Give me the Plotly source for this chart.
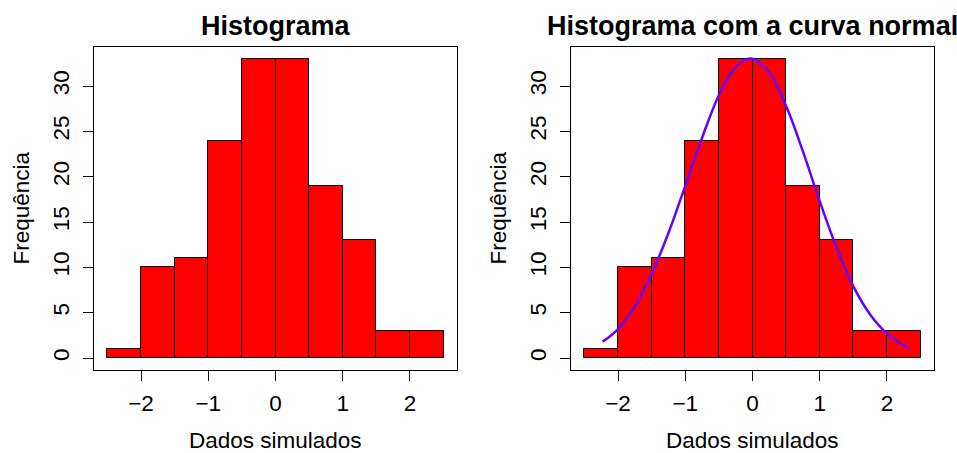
import plotly.graph_objects as go

# ---- data ----
bin_edges = [-2.5, -2.0, -1.5, -1.0, -0.5, 0.0, 0.5, 1.0, 1.5, 2.0, 2.5]
counts = [1, 10, 11, 24, 33, 33, 19, 13, 3, 3]

curve_x = [-2.23, -2.0, -1.75, -1.5, -1.25, -1.0, -0.75, -0.5, -0.25, -0.03,
           0.25, 0.5, 0.75, 1.0, 1.25, 1.5, 1.75, 2.0, 2.33]
curve_y = [1.8, 3.2, 5.7, 9.3, 13.8, 19.0, 24.3, 29.0, 32.1, 33.05,
           31.5, 27.8, 22.8, 17.3, 12.2, 7.9, 4.8, 2.7, 1.05]

x_ticks = [-2, -1, 0, 1, 2]
y_ticks = [0, 5, 10, 15, 20, 25, 30]

titles = ["Histograma", "Histograma com a curva normal"]
x_title = "Dados simulados"
y_title = "Frequência"

centers = [(a + b) / 2 for a, b in zip(bin_edges[:-1], bin_edges[1:])]
widths = [b - a for a, b in zip(bin_edges[:-1], bin_edges[1:])]

W, H = 957, 453
FONT = "Liberation Sans, Arial, sans-serif"
FS = 22.5
FS_TITLE = 27

fig = go.Figure()

# pixel layout of the two plot boxes
boxes = [(94, 457), (571, 934)]
top, bottom = 47, 370

for i, (x0, x1) in enumerate(boxes):
    xa = "x" if i == 0 else "x2"
    ya = "y" if i == 0 else "y2"
    fig.add_trace(go.Bar(
        x=centers, y=counts, width=widths,
        marker=dict(color="#FF0000", line=dict(color="black", width=1)),
        xaxis=xa, yaxis=ya, showlegend=False, hoverinfo="skip",
    ))

fig.add_trace(go.Scatter(
    x=curve_x, y=curve_y, mode="lines",
    line=dict(color="#6600FF", width=2.5, shape="spline", smoothing=1.0),
    xaxis="x2", yaxis="y2", showlegend=False, hoverinfo="skip",
))

axis_common = dict(
    showgrid=False, zeroline=False, showline=True, mirror=True,
    linecolor="black", linewidth=1, ticks="outside", ticklen=10,
    tickcolor="black", tickwidth=1,
    tickfont=dict(family=FONT, size=FS, color="black"),
)

layout = dict(
    width=W, height=H, margin=dict(l=0, r=0, t=0, b=0),
    paper_bgcolor="white", plot_bgcolor="white",
    bargap=0, showlegend=False,
)

ydom = [1 - bottom / H, 1 - top / H]
for i, (x0, x1) in enumerate(boxes):
    suffix = "" if i == 0 else "2"
    layout["xaxis" + suffix] = dict(
        axis_common, domain=[x0 / W, x1 / W], range=[-2.7, 2.7],
        tickmode="array", tickvals=x_ticks,
        ticktext=[("\u2212" + str(-t)) if t < 0 else str(t) for t in x_ticks],
        anchor="y" + suffix, ticklabelstandoff=3,
    )
    layout["yaxis" + suffix] = dict(
        axis_common, domain=ydom, range=[-1.32, 34.32],
        tickmode="array", tickvals=y_ticks, tickangle=-90,
        anchor="x" + suffix, ticklabelstandoff=5,
    )

fig.update_layout(**layout)

annotations = []
for i, (x0, x1) in enumerate(boxes):
    cx = (x0 + x1) / 2 / W
    annotations.append(dict(
        text="<b>" + titles[i] + "</b>", x=cx, y=1 - 26 / H,
        xref="paper", yref="paper", xanchor="center", yanchor="middle",
        showarrow=False, font=dict(family=FONT, size=FS_TITLE, color="black"),
    ))
    annotations.append(dict(
        text=x_title, x=cx, y=1 - 440 / H,
        xref="paper", yref="paper", xanchor="center", yanchor="middle",
        showarrow=False, font=dict(family=FONT, size=FS, color="black"),
    ))
    annotations.append(dict(
        text=y_title, x=(x0 - 73) / W, y=(ydom[0] + ydom[1]) / 2,
        xref="paper", yref="paper", xanchor="center", yanchor="middle",
        textangle=-90, showarrow=False,
        font=dict(family=FONT, size=FS, color="black"),
    ))
fig.update_layout(annotations=annotations)

fig.write_html("out.html")
